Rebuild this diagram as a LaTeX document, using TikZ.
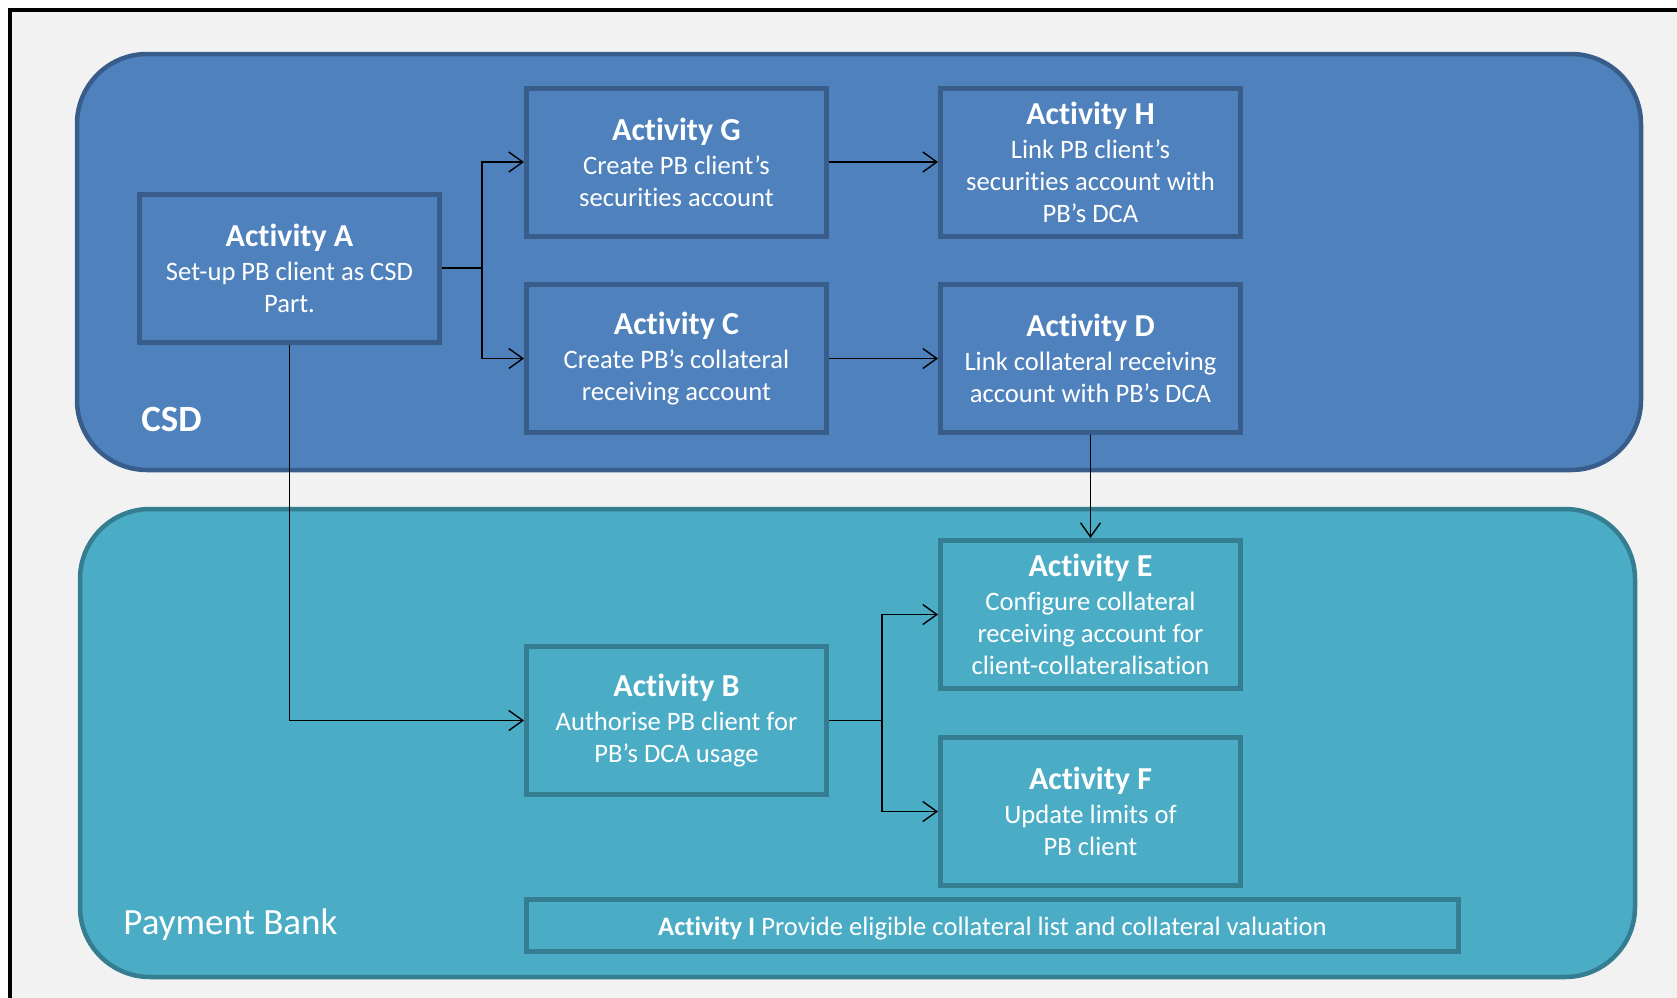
\documentclass[tikz,border=0pt]{standalone}
\usepackage{fontspec}
\setmainfont{Carlito}[Ligatures=NoCommon]
\usetikzlibrary{positioning, calc, arrows.meta}

\definecolor{csdblue}{HTML}{4F81BD}
\definecolor{csdline}{HTML}{385D8A}
\definecolor{pbaqua}{HTML}{4BACC6}
\definecolor{pbline}{HTML}{357D91}
\definecolor{framebg}{HTML}{F2F2F2}

\newcommand{\acttitle}[1]{{\fontsize{16}{16}\selectfont\bfseries #1}}

\begin{document}
\begin{tikzpicture}[x=0.5pt, y=-0.5pt, >={Straight Barb[length=7pt,width=10pt]},
    csdact/.style={draw=csdline, fill=csdblue, line width=2.5pt, text=white, align=center,
        minimum width=150pt, minimum height=74pt, inner sep=0pt, font=\fontsize{13.3}{16}\selectfont},
    pbact/.style={csdact, draw=pbline, fill=pbaqua},
    flow/.style={->, line width=0.7pt}]
    \useasboundingbox (0,0) rectangle (1677,997);
    \clip (0,0) rectangle (1677,997);

    % Background and frame
    \fill[white] (0,0) rectangle (1677,997);
    \draw[black, line width=2pt, fill=framebg] (10,9.5) rectangle (1700,1020);

    % Regions
    \draw[csdline, fill=csdblue, line width=2.25pt, rounded corners=35pt] (77,54) rectangle (1641,470);
    \draw[pbline, fill=pbaqua, line width=2.25pt, rounded corners=35pt] (80,509) rectangle (1635,977);
    \node[anchor=west, inner sep=0pt, text=white, font=\fontsize{18.5}{20}\selectfont\bfseries] (csdlabel) at (141,419) {CSD};
    \node[anchor=west, inner sep=0pt, text=white, font=\fontsize{18.5}{20}\selectfont] (pblabel) at (123,925) {Payment Bank};

    % CSD activities
    \node[csdact] (A) at (289.5,268) {\acttitle{Activity A}\\[1pt]Set-up PB client as CSD\\Part.};
    \node[csdact] (G) at (676.5,162) {\acttitle{Activity G}\\[1pt]Create PB client’s\\securities account};
    \node[csdact] (H) at (1090.5,162) {\acttitle{Activity H}\\[1pt]Link PB client’s\\securities account with\\PB’s DCA};
    \node[csdact] (C) at (676.5,358.5) {\acttitle{Activity C}\\[1pt]Create PB’s collateral\\receiving account};
    \node[csdact] (D) at (1090.5,358.5) {\acttitle{Activity D}\\[1pt]Link collateral receiving\\account with PB’s DCA};

    % Payment Bank activities
    \node[pbact] (B) at (676.5,720.5) {\acttitle{Activity B}\\[1pt]Authorise PB client for\\PB’s DCA usage};
    \node[pbact] (E) at (1090.5,614.5) {\acttitle{Activity E}\\[1pt]Configure collateral\\receiving account for\\client-collateralisation};
    \node[pbact] (F) at (1090.5,811.5) {\acttitle{Activity F}\\[1pt]Update limits of\\PB client};
    \node[pbact, minimum width=466pt, minimum height=26pt, text height=12.5pt, text depth=2.5pt] (I) at (992.5,925.5) {\textbf{Activity I} Provide eligible collateral list and collateral valuation};

    % Connectors
    \coordinate (forkA) at ($(A.east)+(40,0)$);
    \coordinate (forkB) at ($(B.east)+(53,0)$);
    \draw[flow] (A.east) -- (forkA) |- (G.west);
    \draw[flow] (A.east) -- (forkA) |- (C.west);
    \draw[flow] (G.east) -- (H.west);
    \draw[flow] (C.east) -- (D.west);
    \draw[flow] (D.south) -- (E.north);
    \draw[flow] (A.south) |- (B.west);
    \draw[flow] (B.east) -- (forkB) |- (E.west);
    \draw[flow] (B.east) -- (forkB) |- (F.west);
\end{tikzpicture}
\end{document}
